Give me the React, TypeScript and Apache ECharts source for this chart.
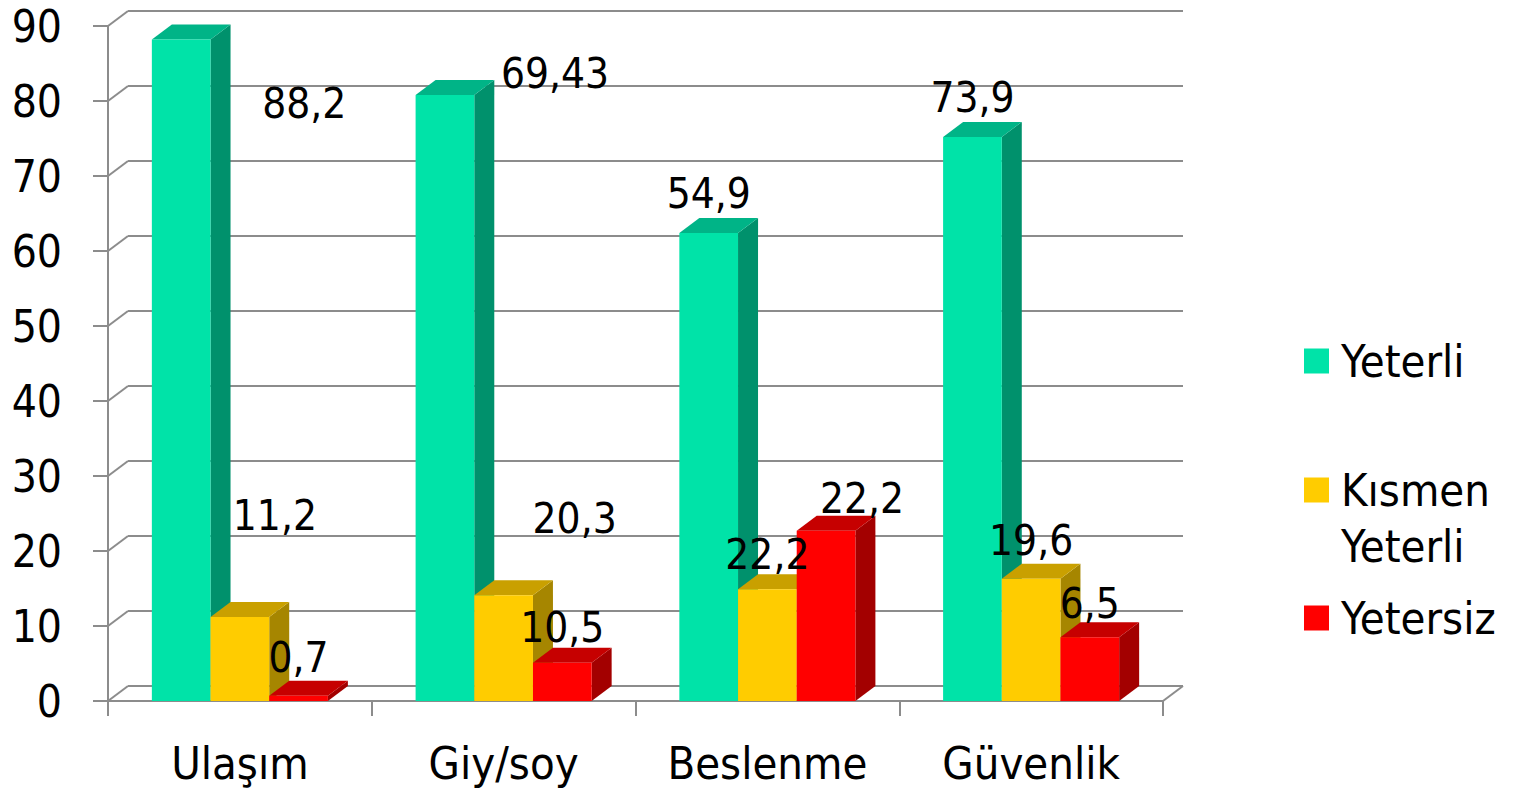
import React, { useEffect, useRef } from "react";
import * as echarts from "echarts";

// ---- data ----
const categories = ["Ulaşım", "Giy/soy", "Beslenme", "Güvenlik"];
const seriesNames = ["Yeterli", "Kısmen Yeterli", "Yetersiz"];

// bar heights as drawn
const yeterliValues = [88.2, 80.8, 62.4, 75.2];
const kismenValues = [11.2, 14.1, 14.9, 16.3];
const yetersizValues = [0.7, 5.1, 22.7, 8.5];

// data label texts as printed on the chart
const yeterliLabels = ["88,2", "69,43", "54,9", "73,9"];
const kismenLabels = ["11,2", "20,3", "22,2", "19,6"];
const yetersizLabels = ["0,7", "10,5", "22,2", "6,5"];

const yTicks = [0, 10, 20, 30, 40, 50, 60, 70, 80, 90];

// ---- layout / style ----
const labelOffsets = [
  [[123, 64], [110, -22], [0, -40], [0, -40]],
  [[35, -102], [71, -77], [0, -35], [0, -38]],
  [[0, -38], [0, -35], [36, -32], [0, -34]],
];
const palette = [
  { front: "#00E3A8", top: "#00B487", side: "#00916C" },
  { front: "#FFCC00", top: "#C9A000", side: "#A68600" },
  { front: "#FF0000", top: "#C60000", side: "#A30000" },
];
const DX = 20;
const DY = -15;
const BAR_FRAC = 0.2225;
const FONT = "'DejaVu Sans Condensed', 'DejaVu Sans', sans-serif";
const GRID_COLOR = "#8c8c8c";

const allValues = [yeterliValues, kismenValues, yetersizValues];
const allLabels = [yeterliLabels, kismenLabels, yetersizLabels];

function barGeom(api: any, cat: number, val: number, idx: number) {
  const base = api.coord([cat, 0]);
  const top = api.coord([cat, val]);
  const band = api.size([1, 0])[0];
  const w = band * BAR_FRAC;
  const x0 = base[0] - 1.5 * w + idx * w;
  return { x0, w, yb: base[1], yt: top[1] };
}

export default function App() {
  const ref = useRef<HTMLDivElement>(null);
  useEffect(() => {
    if (!ref.current) return;
    const chart = echarts.init(ref.current, undefined, { renderer: "svg" });

    const barSeries = allValues.map((vals, idx) => ({
      type: "custom",
      name: seriesNames[idx],
      z: 3 + idx,
      itemStyle: { color: palette[idx].front },
      encode: { x: 0, y: 1 },
      data: vals.map((v, i) => [i, v]),
      clip: false,
      renderItem: (params: any, api: any) => {
        const cat = api.value(0);
        const val = api.value(1);
        const { x0, w, yb, yt } = barGeom(api, cat, val, idx);
        const p = palette[idx];
        return {
          type: "group",
          children: [
            {
              type: "polygon",
              shape: {
                points: [
                  [x0 + w, yt],
                  [x0 + w + DX, yt + DY],
                  [x0 + w + DX, yb + DY],
                  [x0 + w, yb],
                ],
              },
              style: { fill: p.side },
            },
            {
              type: "polygon",
              shape: {
                points: [
                  [x0, yt],
                  [x0 + DX, yt + DY],
                  [x0 + w + DX, yt + DY],
                  [x0 + w, yt],
                ],
              },
              style: { fill: p.top },
            },
            {
              type: "rect",
              shape: { x: x0, y: yt, width: w, height: yb - yt },
              style: { fill: p.front },
            },
          ],
        };
      },
    }));

    const wallSeries = {
      type: "custom",
      name: "wall",
      z: 1,
      silent: true,
      clip: false,
      encode: { x: 0, y: 1 },
      data: yTicks.map((v) => [0, v]),
      renderItem: (params: any, api: any) => {
        const v = api.value(1);
        const y = api.coord([0, v])[1];
        const cs = params.coordSys;
        const xl = cs.x;
        const xr = cs.x + cs.width;
        const ls = { stroke: GRID_COLOR, lineWidth: 2 };
        const children: any[] = [
          { type: "line", shape: { x1: xl, y1: y, x2: xl + DX, y2: y + DY }, style: ls },
          { type: "line", shape: { x1: xl + DX, y1: y + DY, x2: xr + DX, y2: y + DY }, style: ls },
        ];
        if (v === 0) {
          children.push({ type: "line", shape: { x1: xr, y1: y, x2: xr + DX, y2: y + DY }, style: ls });
        }
        return { type: "group", children };
      },
    };

    const labelData: number[][] = [];
    allValues.forEach((vals, j) => vals.forEach((v, i) => labelData.push([i, j, v])));

    const labelSeries = {
      type: "custom",
      name: "labels",
      z: 10,
      silent: true,
      clip: false,
      encode: { x: 0, y: 2 },
      data: labelData,
      renderItem: (params: any, api: any) => {
        const i = api.value(0);
        const j = api.value(1);
        const v = api.value(2);
        const { x0, w, yt } = barGeom(api, i, v, j);
        const off = labelOffsets[j][i];
        return {
          type: "text",
          x: x0 + w / 2 + off[0],
          y: yt + off[1],
          style: {
            text: allLabels[j][i],
            fill: "#000",
            font: `42px ${FONT}`,
            align: "center",
            verticalAlign: "middle",
          },
        };
      },
    };

    const legendCommon = {
      orient: "vertical",
      left: 1304,
      padding: 0,
      icon: "rect",
      itemWidth: 25,
      itemHeight: 25,
      selectedMode: false,
      textStyle: {
        fontSize: 45,
        lineHeight: 56,
        color: "#000",
        fontFamily: FONT,
        padding: [0, 0, 0, 7],
      },
    };

    chart.setOption({
      animation: false,
      backgroundColor: "#fff",
      grid: { left: 108, top: 26, width: 1055, height: 675, containLabel: false },
      legend: [
        { ...legendCommon, top: 333, data: [seriesNames[0]] },
        {
          ...legendCommon,
          top: 406,
          data: [seriesNames[1]],
          formatter: () => "\nKısmen\nYeterli",
        },
        { ...legendCommon, top: 590, data: [seriesNames[2]] },
      ],
      xAxis: {
        type: "category",
        data: categories,
        boundaryGap: true,
        axisLine: { show: true, lineStyle: { color: GRID_COLOR, width: 2 } },
        axisTick: { show: true, length: 15, interval: 0, lineStyle: { color: GRID_COLOR, width: 2 } },
        axisLabel: { color: "#000", fontSize: 45, fontFamily: FONT, margin: 40 },
        splitLine: { show: false },
      },
      yAxis: {
        type: "value",
        min: 0,
        max: 90,
        interval: 10,
        axisLine: { show: true, lineStyle: { color: GRID_COLOR, width: 2 } },
        axisTick: { show: true, length: 15, lineStyle: { color: GRID_COLOR, width: 2 } },
        axisLabel: { color: "#000", fontSize: 44, fontFamily: FONT, margin: 46 },
        splitLine: { show: false },
      },
      series: [wallSeries, ...barSeries, labelSeries],
    });

    return () => chart.dispose();
  }, []);

  return (
    <div
      ref={ref}
      style={{ position: "fixed", left: 0, top: 0, width: "1520px", height: "793px", background: "#fff" }}
    />
  );
}
